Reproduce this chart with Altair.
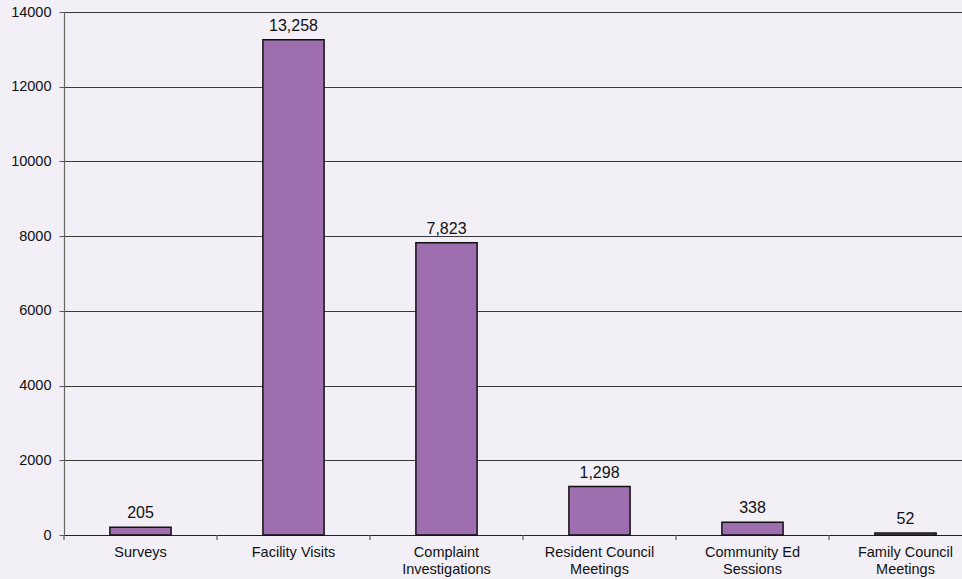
import altair as alt
import pandas as pd

categories = ["Surveys", "Facility Visits", "Complaint\nInvestigations",
              "Resident Council\nMeetings", "Community Ed\nSessions", "Family Council\nMeetings"]
values = [205, 13258, 7823, 1298, 338, 52]
y_ticks = [0, 2000, 4000, 6000, 8000, 10000, 12000, 14000]

df = pd.DataFrame({"cat": categories, "val": values})

W, H = 898, 523
STEP = 153.0
PI = 0.6
PO = (W / STEP - (len(categories) - PI)) / 2
ALIGN = (0.3 * STEP) / (2 * PO * STEP)

xscale = alt.Scale(paddingInner=PI, paddingOuter=PO, align=ALIGN)
yscale = alt.Scale(domain=[0, 14000], nice=False)

bars = alt.Chart(df).mark_bar(
    color="#9E6EAE", stroke="#111111", strokeWidth=1.5
).encode(
    x=alt.X("cat:N", sort=categories, scale=xscale, title=None,
            axis=alt.Axis(labelAngle=0, ticks=False, labelPadding=10.5,
                          labelExpr="split(datum.label, '\\n')",
                          labelFontSize=14.5, labelLineHeight=17,
                          labelColor="#111111", domainColor="#222222",
                          domainWidth=1.2, grid=False)),
    y=alt.Y("val:Q", scale=yscale, title=None,
            axis=alt.Axis(values=y_ticks, format="d", tickSize=5,
                          labelPadding=8, labelFontSize=14.5,
                          labelColor="#111111", tickColor="#555555",
                          domainColor="#666666", domainWidth=1.2,
                          grid=True, gridColor="#3a3a3a", gridWidth=1)),
)

labels = alt.Chart(df).mark_text(
    baseline="alphabetic", dy=-9, fontSize=16, color="#111111",
    font="Liberation Sans"
).encode(
    x=alt.X("cat:N", sort=categories, scale=xscale),
    y=alt.Y("val:Q", scale=yscale),
    text=alt.Text("val:Q", format=","),
)

ticks = alt.Chart(df).mark_rule(
    color="#555555", strokeWidth=1.2, xOffset=-PI * STEP / 2
).encode(
    x=alt.X("cat:N", sort=categories, scale=xscale, bandPosition=0),
    y=alt.value(H),
    y2=alt.value(H + 5),
)

chart = alt.layer(bars, ticks, labels).properties(
    width=W, height=H,
    autosize=alt.AutoSizeParams(type="none"),
    padding={"left": 64, "top": 12, "right": 0, "bottom": 44},
    background="#F2EFF6",
).configure_view(stroke=None).configure_axis(
    labelFont="Liberation Sans"
)

chart.save("out.html", embed_options={"renderer": "svg", "actions": False})
